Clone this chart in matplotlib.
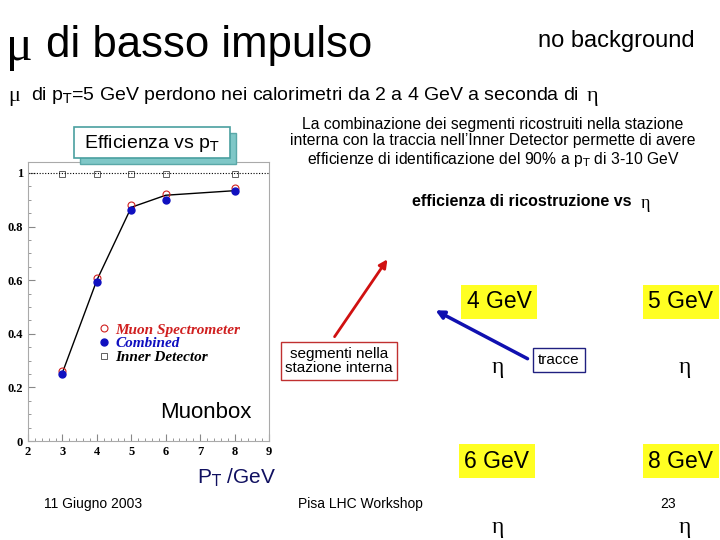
import matplotlib
matplotlib.use("Agg")
import matplotlib.pyplot as plt
from matplotlib.patches import Rectangle

# efficiency vs pT (Muonbox)
pt = [3, 4, 5, 6, 8]
eff_ms = [0.262, 0.608, 0.879, 0.920, 0.944]
eff_comb = [0.250, 0.594, 0.861, 0.898, 0.934]
eff_id = [0.996, 0.996, 0.996, 0.996, 0.996]
eff_line = [0.255, 0.600, 0.872, 0.917, 0.934]

energy_labels = ["4 GeV", "5 GeV", "6 GeV", "8 GeV"]

W, H = 720, 540
plt.rcParams["font.family"] = ["Liberation Sans", "DejaVu Sans"]
SERIF = ["Liberation Serif", "DejaVu Serif"]
fig = plt.figure(figsize=(7.2, 5.4), dpi=100)


def fx(x):
    return x / W


def fy(y):
    return 1 - y / H


def txt(x, y, s, **kw):
    return fig.text(fx(x), fy(y), s, **kw)


# slide texts
txt(6, 48, "\u03bc", fontsize=36, va="center", family=SERIF)
txt(46, 45, "di basso impulso", fontsize=31.5, va="center")
txt(695, 41, "no background", fontsize=17, va="center", ha="right")
txt(8, 97, "\u03bc", fontsize=16, va="center", family=SERIF)
txt(31, 95, r"di p$_\mathrm{T}$=5 GeV perdono nei calorimetri da 2 a 4 GeV a seconda di",
    fontsize=14, va="center")
txt(587, 97, "\u03b7", fontsize=16, va="center", family=SERIF)
txt(493, 143, "La combinazione dei segmenti ricostruiti nella stazione\n"
    "interna con la traccia nell\u2019Inner Detector permette di avere\n"
    "efficienze di identificazione del 90% a p$_\\mathrm{T}$ di 3-10 GeV",
    fontsize=11.3, ha="center", va="center", linespacing=1.1)
txt(412, 202, "efficienza di ricostruzione vs", fontsize=11.5, fontweight="bold",
    va="center")
txt(641, 204, "\u03b7", fontsize=13, va="center", family=SERIF)

# "Efficienza vs pT" box with shadow
fig.patches.append(Rectangle((fx(80), fy(164)), fx(156), 31 / H, transform=fig.transFigure,
                             facecolor="#7fc7c7", edgecolor="#5aa8a8", lw=1))
fig.patches.append(Rectangle((fx(74), fy(158)), fx(156), 31 / H, transform=fig.transFigure,
                             facecolor="white", edgecolor="#4aa0a0", lw=1.2))
txt(152, 143, r"Efficienza vs p$_\mathrm{T}$", fontsize=14, ha="center", va="center")

# efficiency plot
ax = fig.add_axes([fx(28), fy(441), fx(269) - fx(28), (441 - 162) / H])
ax.plot(pt, eff_line, color="black", lw=1)
ax.plot(pt, eff_ms, "o", mfc="none", mec="#d02020", ms=5, mew=0.8, label="Muon Spectrometer")
ax.plot(pt, eff_comb, "o", color="#1010c0", ms=5, label="Combined")
ax.plot(pt, eff_id, "s", mfc="none", mec="#606060", ms=4, mew=0.7, label="Inner Detector")
ax.axhline(1.0, color="black", lw=0.8, ls=(0, (1, 1.5)))
ax.set_xlim(2, 9)
ax.set_ylim(0, 1.041)
ax.set_xticks(range(2, 10))
ax.set_yticks([0, 0.2, 0.4, 0.6, 0.8, 1.0])
ax.set_yticklabels(["0", "0.2", "0.4", "0.6", "0.8", "1"])
ax.minorticks_on()
ax.tick_params(which="both", direction="in", colors="#888888", labelcolor="black")
ax.tick_params(which="major", length=5, labelsize=9)
ax.tick_params(which="minor", length=2.5)
for lab in ax.get_xticklabels() + ax.get_yticklabels():
    lab.set_fontfamily(SERIF)
    lab.set_fontweight("bold")
for sp in ax.spines.values():
    sp.set_color("#aaaaaa")
    sp.set_linewidth(0.8)
leg = ax.legend(loc="upper left", bbox_to_anchor=(0.26, 0.45), frameon=False, fontsize=11,
                handletextpad=0.3, labelspacing=0.0, handlelength=0.8, borderpad=0)
for t, c in zip(leg.get_texts(), ["#d02020", "#1010c0", "black"]):
    t.set_color(c)
    t.set_fontfamily(SERIF)
    t.set_fontweight("bold")
    t.set_fontstyle("italic")

txt(206, 412, "Muonbox", fontsize=16, ha="center", va="center")
txt(236, 478, r"P$_\mathrm{T}$ /GeV", fontsize=15, color="#101060", ha="center", va="center")

# footer
txt(93, 504, "11 Giugno 2003", fontsize=10, ha="center", va="center")
txt(360, 504, "Pisa LHC Workshop", fontsize=10, ha="center", va="center")
txt(668, 504, "23", fontsize=10, ha="center", va="center")

# overlay axes in pixel coordinates for boxes and arrows
ax_ann = fig.add_axes([0, 0, 1, 1], facecolor="none")
ax_ann.set_xlim(0, W)
ax_ann.set_ylim(H, 0)
ax_ann.axis("off")
ax_ann.text(339, 361, "segmenti nella\nstazione interna", fontsize=11, ha="center", va="center",
            linespacing=1.05,
            bbox=dict(boxstyle="square,pad=0.3", facecolor="white", edgecolor="#c03030", lw=1))
ax_ann.annotate("", xy=(389, 257), xytext=(333, 339),
                arrowprops=dict(arrowstyle="-|>", color="#d01010", lw=2, mutation_scale=12))
ax_ann.annotate("", xy=(433, 309), xytext=(530, 360),
                arrowprops=dict(arrowstyle="-|>", color="#1010b0", lw=2.5, mutation_scale=12))
ax_ann.text(559, 360, "tracce", fontsize=11, ha="center", va="center",
            bbox=dict(boxstyle="square,pad=0.35", facecolor="white", edgecolor="#202080", lw=1))

# energy labels in yellow boxes
label_pos = [(499, 302), (681, 302), (497, 461), (681, 461)]
for (x, y), lab in zip(label_pos, energy_labels):
    ax_ann.text(x, y, lab, fontsize=16.5, ha="center", va="center",
                bbox=dict(boxstyle="square,pad=0.25", facecolor="#ffff22", edgecolor="none"))

# eta axis labels
eta_pos = [(498, 368), (685, 368), (498, 527), (685, 527)]
for x, y in eta_pos:
    ax_ann.text(x, y, "\u03b7", fontsize=17, ha="center", va="center", family=SERIF)

fig.savefig("out.png", dpi=100)
